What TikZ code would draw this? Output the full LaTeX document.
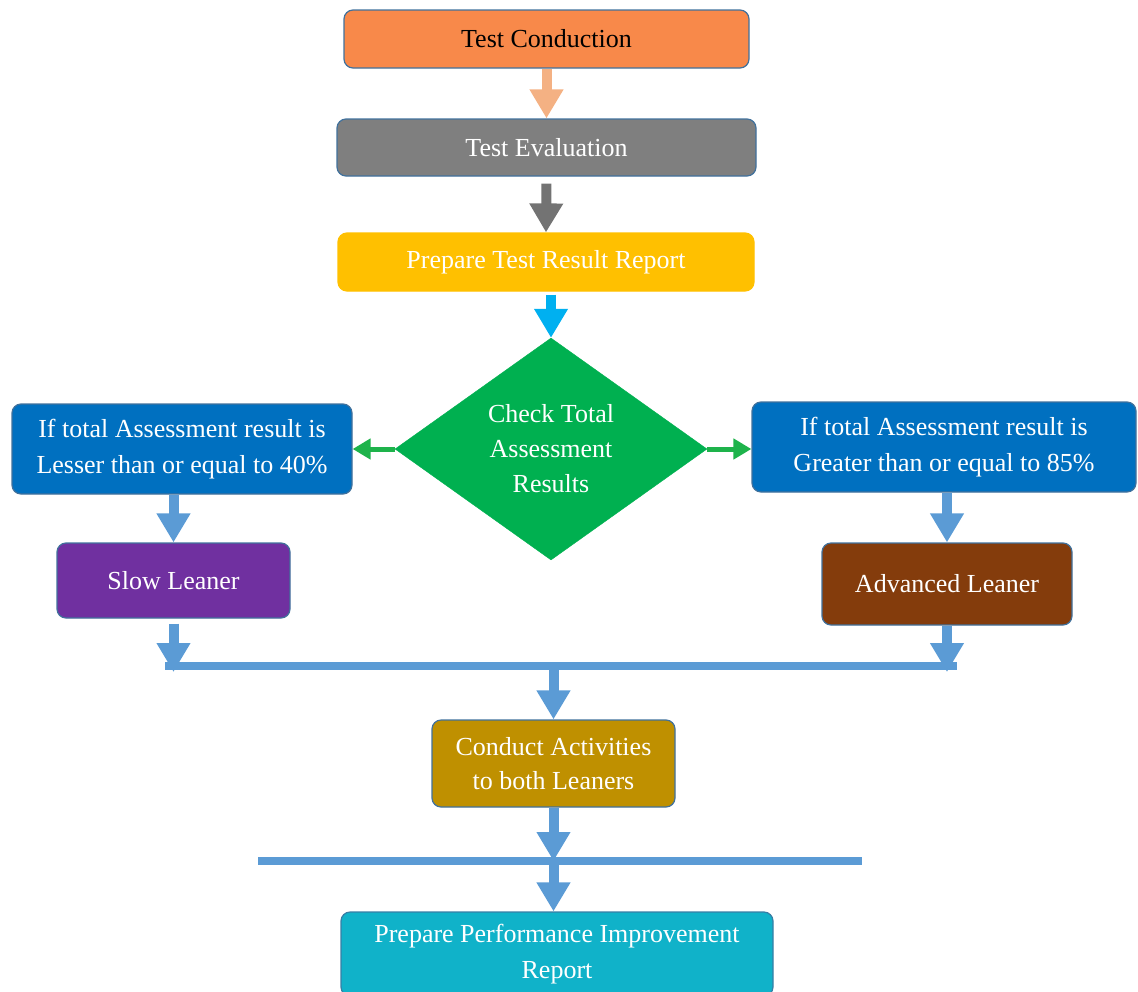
\documentclass[tikz,border=0pt]{standalone}
\usepackage{fontspec}
\setmainfont{Liberation Serif}
\usetikzlibrary{shapes.geometric,arrows.meta}

\definecolor{condfill}{HTML}{F8894A}
\definecolor{condarrow}{HTML}{F4B183}
\definecolor{evalfill}{HTML}{7F7F7F}
\definecolor{evalarrow}{HTML}{737373}
\definecolor{repfill}{HTML}{FFC000}
\definecolor{reparrow}{HTML}{00B0F0}
\definecolor{checkfill}{HTML}{00B050}
\definecolor{checkarrow}{HTML}{1EB34B}
\definecolor{ruleblue}{HTML}{0070C0}
\definecolor{flowblue}{HTML}{5B9BD5}
\definecolor{slowfill}{HTML}{7030A0}
\definecolor{advfill}{HTML}{843C0C}
\definecolor{actfill}{HTML}{BF9000}
\definecolor{perffill}{HTML}{10B2C9}
\definecolor{edge}{HTML}{41719C}

\tikzset{
	box/.style={rectangle, rounded corners=9pt, draw=edge, line width=1.2pt, text=white, align=center, inner sep=0pt, font=\fontsize{26}{36}\selectfont},
	bigarrow/.style={line width=10pt, -{Triangle[width=32pt,length=29pt]}},
	thinarrow/.style={line width=5pt, -{Triangle[width=20pt,length=18pt]}},
	bar/.style={line width=8pt, flowblue}
}

\begin{document}
\begin{tikzpicture}[x=1pt,y=-1pt]
		\useasboundingbox (0,0) rectangle (1138,991);
		\clip (0,0) rectangle (1138,991);

		\node[box, fill=condfill, text=black, minimum width=405pt, minimum height=58pt] (cond) at (546.5,39) {Test Conduction};
		\node[box, fill=evalfill, minimum width=419pt, minimum height=57pt] (eval) at (546.5,147.5) {Test Evaluation};
		\node[box, fill=repfill, draw=repfill, minimum width=416pt, minimum height=58pt] (report) at (546,262) {Prepare Test Result Report};
		\node[diamond, fill=checkfill, draw=checkfill, text=white, align=center, inner sep=0pt, minimum width=312pt, minimum height=222pt, font=\fontsize{26}{35}\selectfont] (check) at (551,449) {Check Total\\Assessment\\Results};

		\node[box, fill=ruleblue, minimum width=340pt, minimum height=90pt] (lbox) at (182,449) {If total Assessment result is\\Lesser than or equal to 40\%};
		\node[box, fill=ruleblue, minimum width=384pt, minimum height=90pt] (rbox) at (944,447) {If total Assessment result is\\Greater than or equal to 85\%};
		\node[box, fill=slowfill, minimum width=233pt, minimum height=75pt] (slow) at (173.5,580.5) {Slow Leaner};
		\node[box, fill=advfill, minimum width=250pt, minimum height=82pt] (adv) at (947,584) {Advanced Leaner};
		\node[box, fill=actfill, minimum width=243pt, minimum height=87pt, font=\fontsize{26}{34}\selectfont] (act) at (553.5,763.5) {Conduct Activities\\to both Leaners};
		\node[box, fill=perffill, draw=edge!80!perffill, minimum width=432pt, minimum height=84pt, font=\fontsize{26}{36}\selectfont] (perf) at (557,954) {\raisebox{4pt}{\parbox{430pt}{\centering Prepare Performance Improvement\\Report}}};

		\coordinate (b1l) at (165,666); % merge bar
		\coordinate (b1r) at (957,666);
		\coordinate (b2l) at (258,861);
		\coordinate (b2r) at (862,861);

		\draw[bigarrow, condarrow] (cond.south) -- (eval.north);
		\draw[bigarrow, evalarrow, shorten <=7pt] (eval.south) -- (report.north);
		\draw[bigarrow, reparrow, shorten <=3pt] (check.north |- report.south) -- (check.north);

		\draw[thinarrow, checkarrow] (check.west) -- (lbox.east);
		\draw[thinarrow, checkarrow] (check.east) -- (check.east -| rbox.west);

		\draw[bigarrow, flowblue] (slow.north |- lbox.south) -- (slow.north);
		\draw[bigarrow, flowblue] (adv.north |- rbox.south) -- (adv.north);

		\draw[bar] (b1l) -- (b1r);
		\draw[bigarrow, flowblue, shorten <=5pt, shorten >=-6pt] (slow.south) -- (slow.south |- b1l);
		\draw[bigarrow, flowblue, shorten >=-6pt] (adv.south) -- (adv.south |- b1l);
		\draw[bigarrow, flowblue] (act.north |- b1l) -- (act.north);

		\draw[bar] (b2l) -- (b2r);
		\draw[bigarrow, flowblue] (act.south) -- (act.south |- b2l);
		\draw[bigarrow, flowblue] (act.south |- b2l) -- (act.south |- perf.north);
	\end{tikzpicture}
\end{document}
